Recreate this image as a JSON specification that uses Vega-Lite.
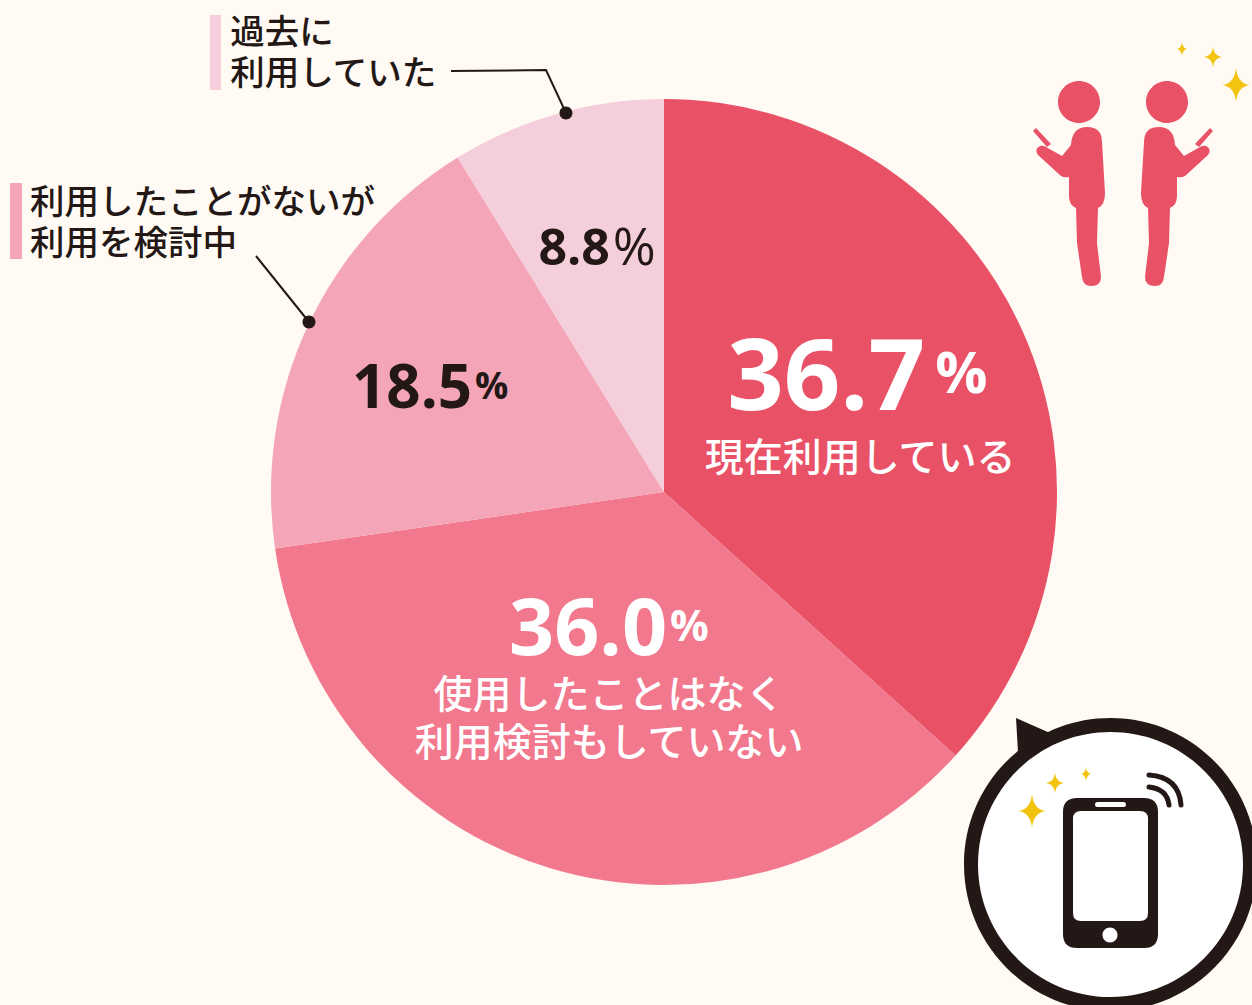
{
"$schema":"https://vega.github.io/schema/vega-lite/v6.json",
"width":1176,"height":984,
"autosize":"none",
"padding":{"left":76,"top":0,"right":0,"bottom":21},
"background":"#FFFAF4",
"config":{"view":{"stroke":null}},
"data":{"values":[
{"rank":1,"segment":"現在利用している","label":"現在利用している","value":36.7},
{"rank":2,"segment":"使用したことはなく利用検討もしていない","label":"使用したことはなく\n利用検討もしていない","value":36.0},
{"rank":3,"segment":"利用したことがないが利用を検討中","label":"利用したことがないが\n利用を検討中","value":18.5},
{"rank":4,"segment":"過去に利用していた","label":"過去に\n利用していた","value":8.8}
]},
"layer":[
{"mark":{"type":"arc","outerRadius":393},
 "encoding":{
  "theta":{"field":"value","type":"quantitative","stack":true,"scale":{"domain":[0,100]}},
  "order":{"field":"rank","type":"ordinal"},
  "color":{"field":"segment","type":"nominal","legend":null,
   "scale":{"domain":["現在利用している","使用したことはなく利用検討もしていない","利用したことがないが利用を検討中","過去に利用していた"],"range":["#E95167","#F2788D","#F4A5B8","#F5CEDB"]}}
 }},
{"mark":{"type":"text","font":"Open Sans","fontWeight":"bold","align":"right","baseline":"alphabetic",
  "fontSize":{"expr":"datum.rank==1?99:datum.rank==2?79:datum.rank==3?60:50"},
  "dx":{"expr":"datum.rank==1?51:datum.rank==2?70:datum.rank==3?16.5:8.6"},
  "dy":{"expr":"datum.rank==1?11:datum.rank==2?-57:datum.rank==3?13:-6"},
  "fill":{"expr":"datum.rank<=2?'#FFFFFF':'#231815'"}},
 "encoding":{
  "theta":{"field":"value","type":"quantitative","stack":true,"scale":{"domain":[0,100]}},
  "order":{"field":"rank","type":"ordinal"},
  "radius":{"value":230},
  "text":{"field":"value","type":"quantitative","format":".1f"}
 }},
{"mark":{"type":"text","font":"Open Sans","align":"left","baseline":"alphabetic","text":"%",
  "fontWeight":{"expr":"datum.rank==4?'normal':'bold'"},
  "fontSize":{"expr":"datum.rank==1?58:datum.rank==2?43:datum.rank==3?37:52"},
  "dx":{"expr":"datum.rank==1?61:datum.rank==2?73:datum.rank==3?19.5:11.6"},
  "dy":{"expr":"datum.rank==1?-6:datum.rank==2?-71:datum.rank==3?4:-6"},
  "fill":{"expr":"datum.rank<=2?'#FFFFFF':'#231815'"}},
 "encoding":{
  "theta":{"field":"value","type":"quantitative","stack":true,"scale":{"domain":[0,100]}},
  "order":{"field":"rank","type":"ordinal"},
  "radius":{"value":230}
 }},
{"mark":{"type":"text","font":"Noto Sans CJK JP","fontWeight":500,"lineBreak":"\n","baseline":"middle",
  "align":{"expr":"datum.rank<=2?'center':'left'"},
  "lineHeight":{"expr":"datum.rank<=2?48:41"},
  "fontSize":{"expr":"datum.rank<=2?39:34.5"},
  "dx":{"expr":"datum.rank==1?-14:datum.rank==2?12:datum.rank==3?-425.5:-371"},
  "dy":{"expr":"datum.rank==1?60:datum.rank==2?-16.5:datum.rank==3?-191:-237"},
  "fill":{"expr":"datum.rank<=2?'#FFFFFF':'#231815'"}},
 "encoding":{
  "theta":{"field":"value","type":"quantitative","stack":true,"scale":{"domain":[0,100]}},
  "order":{"field":"rank","type":"ordinal"},
  "radius":{"value":230},
  "text":{"field":"label","type":"nominal"}
 }},
{"data":{"values":[{"item":"bars"}]},"encoding":{},
 "mark":{"type":"point","filled":true,"opacity":1,"strokeWidth":0,"size":4,"x":-76,"y":0,"fill":"#F5CEDB","shape":"M210 15H221V90H210Z"}},
{"data":{"values":[{"item":"bars"}]},"encoding":{},
 "mark":{"type":"point","filled":true,"opacity":1,"strokeWidth":0,"size":4,"x":-76,"y":0,"fill":"#F4A5B8","shape":"M10 183H22V259H10Z"}},
{"data":{"values":[{"item":"leaders"}]},"encoding":{},
 "mark":{"type":"point","filled":false,"opacity":1,"strokeWidth":2,"size":4,"x":-76,"y":0,"stroke":"#231815","shape":"M451 71L546 70L566 113M256 256L309 322"}},
{"data":{"values":[{"item":"dots"}]},"encoding":{},
 "mark":{"type":"point","filled":true,"opacity":1,"strokeWidth":0,"size":4,"x":-76,"y":0,"fill":"#231815","shape":"M559.5 113a6.5 6.5 0 1 0 13 0a6.5 6.5 0 1 0 -13 0ZM302.5 322a6.5 6.5 0 1 0 13 0a6.5 6.5 0 1 0 -13 0Z"}},
{"data":{"values":[{"item":"people"}]},"encoding":{},
 "mark":{"type":"point","filled":true,"opacity":1,"strokeWidth":0,"size":4,"x":-76,"y":0,"fill":"#E95167","shape":"M1058 102a21 21 0 1 0 42 0a21 21 0 1 0 -42 0ZM1146 102a21 21 0 1 0 42 0a21 21 0 1 0 -42 0ZM1071 145Q1072 127 1087 127Q1102 127 1102 142L1105 193Q1105 205 1098 208L1097 243L1101 277Q1101 286 1091 286Q1083 286 1082 277L1077 243L1076 208Q1069 205 1069 196L1069 177Q1064 178 1061 176L1038 155Q1034 149 1040 146Q1043 145 1046 147L1062 156ZM1033 131L1036 128L1051 144L1047 147ZM1175 145Q1174 127 1159 127Q1144 127 1144 142L1141 193Q1141 205 1148 208L1149 243L1145 277Q1145 286 1155 286Q1163 286 1164 277L1169 243L1170 208Q1177 205 1177 196L1177 177Q1182 178 1185 176L1208 155Q1212 149 1206 146Q1203 145 1200 147L1184 156ZM1213 131L1210 128L1195 144L1199 147Z"}},
{"data":{"values":[{"item":"bubble"}]},"encoding":{},
 "mark":{"type":"point","filled":true,"opacity":1,"strokeWidth":0,"size":4,"x":-76,"y":0,"fill":"#231815","shape":"M964 864.5a146.5 146.5 0 1 0 293 0a146.5 146.5 0 1 0 -293 0ZM1016 718L1018 752L1050 733Z"}},
{"data":{"values":[{"item":"bubble"}]},"encoding":{},
 "mark":{"type":"point","filled":true,"opacity":1,"strokeWidth":0,"size":4,"x":-76,"y":0,"fill":"#FFFFFF","shape":"M978 864.5a132.5 132.5 0 1 0 265 0a132.5 132.5 0 1 0 -265 0Z"}},
{"data":{"values":[{"item":"phone"}]},"encoding":{},
 "mark":{"type":"point","filled":true,"opacity":1,"strokeWidth":0,"size":4,"x":-76,"y":0,"fill":"#231815","shape":"M1077 798H1144Q1158 798 1158 812V934Q1158 948 1144 948H1077Q1063 948 1063 934V812Q1063 798 1077 798Z"}},
{"data":{"values":[{"item":"phone"}]},"encoding":{},
 "mark":{"type":"point","filled":true,"opacity":1,"strokeWidth":0,"size":4,"x":-76,"y":0,"fill":"#FFFFFF","shape":"M1081 811H1140Q1148 811 1148 819V913Q1148 921 1140 921H1081Q1073 921 1073 913V819Q1073 811 1081 811ZM1097 802H1124Q1126 802 1126 804.5Q1126 807 1124 807H1097Q1095 807 1095 804.5Q1095 802 1097 802ZM1102.5 935a7.5 7.5 0 1 0 15 0a7.5 7.5 0 1 0 -15 0Z"}},
{"data":{"values":[{"item":"waves"}]},"encoding":{},
 "mark":{"type":"point","filled":false,"opacity":1,"strokeWidth":5,"strokeCap":"round","size":4,"x":-76,"y":0,"stroke":"#231815","shape":"M1149 775Q1179 777 1181 805M1149 787Q1167 789 1169 805"}},
{"data":{"values":[{"item":"stars"}]},"encoding":{},
 "mark":{"type":"point","filled":true,"opacity":1,"strokeWidth":0,"size":4,"x":-76,"y":0,"fill":"#F2C40F","shape":"M1182 42Q1182.6 48.2 1187 49Q1182.6 49.8 1182 56Q1181.4 49.8 1177 49Q1181.4 48.2 1182 42ZM1213 47Q1214 56 1222 57Q1214 58 1213 67Q1212 58 1204 57Q1212 56 1213 47ZM1236 68Q1237.5 83.5 1250 85Q1237.5 86.5 1236 102Q1234.5 86.5 1222 85Q1234.5 83.5 1236 68ZM1032 794Q1033.5 809.5 1046 811Q1033.5 812.5 1032 828Q1030.5 812.5 1018 811Q1030.5 809.5 1032 794ZM1055 773Q1056 782 1064 783Q1056 784 1055 793Q1054 784 1046 783Q1054 782 1055 773ZM1086 767Q1086.6 773.2 1091 774Q1086.6 774.8 1086 781Q1085.4 774.8 1081 774Q1085.4 773.2 1086 767Z"}}
]}
